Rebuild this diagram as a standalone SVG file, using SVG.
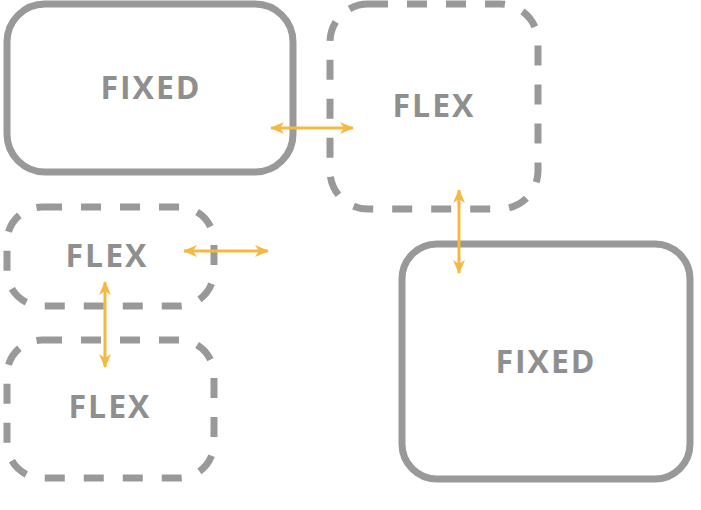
<svg xmlns="http://www.w3.org/2000/svg" width="701" height="510" viewBox="0 0 701 510">
<style>
.box{fill:none;stroke:#999999;stroke-width:7}
.dash{stroke-dasharray:20 19}
.lbl{font-family:"Open Sans","DejaVu Sans",sans-serif;font-weight:700;font-size:32px;fill:#8f8f8f;text-anchor:middle;letter-spacing:2px}
.arr{fill:none;stroke:#f5b942;stroke-width:3;marker-start:url(#ah);marker-end:url(#ah)}
</style>
<defs>
<marker id="ah" viewBox="-14 -7 16 14" refX="0" refY="0" markerWidth="16" markerHeight="14" markerUnits="userSpaceOnUse" orient="auto-start-reverse">
<path d="M1,0 L-13,-6 L-9,0 L-13,6 Z" fill="#f5b942"/>
</marker>
</defs>
<g id="fixed1">
<rect class="box" x="7" y="4" width="286" height="168" rx="38"/>
<text class="lbl" x="151" y="99">FIXED</text>
</g>
<g id="flex1">
<rect class="box dash" x="330" y="4" width="208" height="205" rx="38"/>
<text class="lbl" x="434" y="117">FLEX</text>
</g>
<g id="flex2">
<rect class="box dash" x="7" y="207" width="207" height="99" rx="35"/>
<text class="lbl" x="107" y="267">FLEX</text>
</g>
<g id="flex3">
<rect class="box dash" x="7" y="340" width="207" height="138" rx="35"/>
<text class="lbl" x="110" y="418">FLEX</text>
</g>
<g id="fixed2">
<rect class="box" x="402" y="244" width="288" height="235" rx="35"/>
<text class="lbl" x="546" y="373">FIXED</text>
</g>
<g id="connectors">
<line class="arr" x1="271" y1="128" x2="353" y2="128"/>
<line class="arr" x1="459" y1="190" x2="459" y2="273"/>
<line class="arr" x1="184" y1="251" x2="268" y2="251"/>
<line class="arr" x1="105" y1="282" x2="105" y2="367"/>
</g>
</svg>
